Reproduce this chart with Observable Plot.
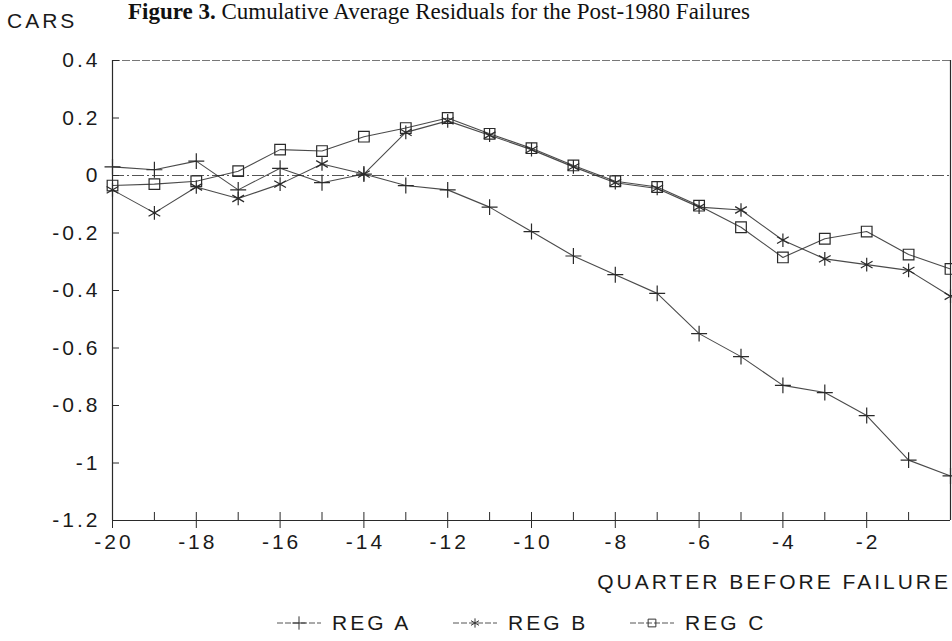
<!DOCTYPE html>
<html>
<head>
<meta charset="utf-8">
<script src="https://cdn.jsdelivr.net/npm/d3@7"></script>
<script src="https://cdn.jsdelivr.net/npm/@observablehq/plot@0.6"></script>
<style>
  body { margin: 0; background: #fff; }
  #wrap { position: relative; width: 952px; height: 641px; overflow: hidden;
          font-family: "Liberation Sans", Arial, sans-serif; color: #1a1a1a; }
  #chart { position: absolute; left: 0; top: 0; }
  #title { position: absolute; left: 128px; top: 0px; line-height: 24px; white-space: nowrap;
           font-family: "Liberation Serif", "Times New Roman", serif; font-size: 23px; color: #111; }
  #cars { position: absolute; left: 7px; top: 9px; font-size: 21px; letter-spacing: 3px; }
  #xlabel { position: absolute; right: 1px; top: 570px; font-size: 21px; letter-spacing: 3px; white-space: nowrap; }
  .leg { position: absolute; top: 611px; display: flex; align-items: center; font-size: 21px; letter-spacing: 3px; white-space: nowrap; }
  .leg svg { margin-right: 10px; }
</style>
</head>
<body>
<div id="wrap">
  <div id="chart"></div>
  <div id="title"><b>Figure 3.</b> Cumulative Average Residuals for the Post-1980 Failures</div>
  <div id="cars">CARS</div>
  <div id="xlabel">QUARTER BEFORE FAILURE</div>
  <div id="legend"></div>
</div>
<script>
// ---- data ----
const quarters = [-20,-19,-18,-17,-16,-15,-14,-13,-12,-11,-10,-9,-8,-7,-6,-5,-4,-3,-2,-1,0];
const regA = [0.03,0.02,0.05,-0.05,0.025,-0.025,0.005,-0.035,-0.05,-0.11,-0.195,-0.28,-0.345,-0.41,-0.55,-0.63,-0.73,-0.755,-0.835,-0.99,-1.045];
const regB = [-0.05,-0.13,-0.04,-0.08,-0.03,0.04,0.005,0.15,0.19,0.14,0.09,0.03,-0.025,-0.045,-0.11,-0.12,-0.225,-0.29,-0.31,-0.33,-0.42];
const regC = [-0.035,-0.03,-0.02,0.015,0.09,0.085,0.135,0.165,0.2,0.145,0.095,0.035,-0.02,-0.04,-0.105,-0.18,-0.285,-0.22,-0.195,-0.275,-0.325];
const seriesNames = ["REG A", "REG B", "REG C"];
const seriesSymbols = ["plus", "asterisk", "square"];
const xTickLabels = [-20,-18,-16,-14,-12,-10,-8,-6,-4,-2];
const xMinorTicks = [-19,-17,-15,-13,-11,-9,-7,-5,-3,-1];
const yTickLabels = [0.4,0.2,0,-0.2,-0.4,-0.6,-0.8,-1,-1.2];

const seriesValues = [regA, regB, regC];
const rows = seriesNames.flatMap((name, k) =>
  quarters.map((q, i) => ({ q, v: seriesValues[k][i], s: name })));

const ink = "#2a2a2a";
const symbolR = { "REG A": 5.2, "REG B": 6.4, "REG C": 6 };
const fmtY = d => String(+d.toFixed(1));
const fmtX = d => String(d);

const chart = Plot.plot({
  width: 952,
  height: 641,
  marginLeft: 112,
  marginRight: 2,
  marginTop: 60,
  marginBottom: 121,
  style: { fontFamily: "Liberation Sans, Arial, sans-serif", fontSize: "21px", letterSpacing: "3px",
           color: "#1a1a1a", background: "#fff" },
  x: { domain: [-20, 0] },
  y: { domain: [-1.2, 0.4] },
  symbol: { domain: seriesNames, range: seriesSymbols },
  marks: [
    // frame
    Plot.ruleY([0.4], { stroke: "#777", strokeWidth: 1.2, strokeDasharray: "8,2" }),
    Plot.ruleY([-1.2], { stroke: ink, strokeWidth: 1.2 }),
    Plot.ruleX([-20], { stroke: ink, strokeWidth: 1.2 }),
    Plot.ruleX([0], { stroke: ink, strokeWidth: 1.2 }),
    // zero reference line
    Plot.ruleY([0], { stroke: "#555", strokeWidth: 1.2, strokeDasharray: "12,3,2,3" }),
    // y axis: labels and inward ticks
    Plot.axisY({ ticks: yTickLabels, tickSize: 0, tickPadding: 12, tickFormat: fmtY,
                 fontSize: 21, label: null }),
    Plot.axisY({ ticks: yTickLabels, tickSize: 7, dx: 7, tickFormat: () => "", label: null, stroke: ink }),
    // x axis: labels, crossing major ticks, upward minor ticks
    Plot.axisX({ ticks: xTickLabels, tickSize: 0, tickPadding: 14, tickFormat: fmtX,
                 fontSize: 21, label: null, dx: 1.5 }),
    Plot.axisX({ ticks: xTickLabels, tickSize: 16, dy: -8, tickFormat: () => "", label: null, stroke: ink }),
    Plot.axisX({ ticks: xMinorTicks, tickSize: 8, dy: -8, tickFormat: () => "", label: null, stroke: ink }),
    // series lines
    Plot.line(rows, { x: "q", y: "v", z: "s", stroke: ink, strokeWidth: 1.1, strokeOpacity: 0.85 }),
    // series markers
    ...seriesNames.map(name =>
      Plot.dot(rows.filter(d => d.s === name),
        { x: "q", y: "v", symbol: "s", r: symbolR[name], stroke: ink, fill: "none", strokeWidth: 1.2 }))
  ]
});
document.getElementById("chart").appendChild(chart);

// ---- legend (HTML, with inline symbol samples) ----
const legendLeft = [276, 452, 629];
const legend = document.getElementById("legend");
seriesNames.forEach((name, k) => {
  const item = document.createElement("div");
  item.className = "leg";
  item.style.left = legendLeft[k] + "px";
  const ns = "http://www.w3.org/2000/svg";
  const svg = document.createElementNS(ns, "svg");
  svg.setAttribute("width", 46);
  svg.setAttribute("height", 20);
  const line = document.createElementNS(ns, "line");
  line.setAttribute("x1", 1); line.setAttribute("x2", 45);
  line.setAttribute("y1", 10); line.setAttribute("y2", 10);
  line.setAttribute("stroke", "#555"); line.setAttribute("stroke-width", 1);
  line.setAttribute("stroke-dasharray", "6,2");
  svg.appendChild(line);
  const sym = document.createElementNS(ns, "path");
  const symType = { plus: d3.symbolPlus, asterisk: d3.symbolAsterisk, square: d3.symbolSquare }[seriesSymbols[k]];
  sym.setAttribute("d", d3.symbol(symType, 60)());
  sym.setAttribute("transform", "translate(23,10)");
  sym.setAttribute("fill", "none");
  sym.setAttribute("stroke", "#333");
  sym.setAttribute("stroke-width", 1);
  svg.appendChild(sym);
  item.appendChild(svg);
  const label = document.createElement("span");
  label.textContent = name;
  item.appendChild(label);
  legend.appendChild(item);
});
</script>
</body>
</html>
